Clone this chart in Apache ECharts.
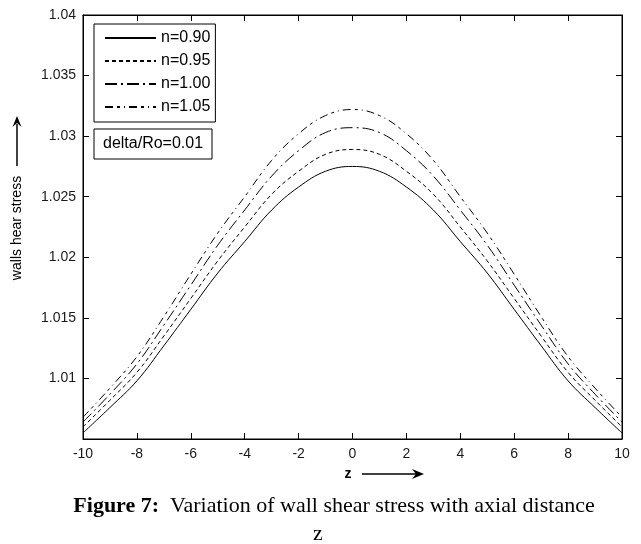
<!DOCTYPE html>
<html><head><meta charset="utf-8">
<script src="https://cdn.jsdelivr.net/npm/echarts@6/dist/echarts.min.js"></script>
<style>html,body{margin:0;padding:0;background:#fff}#c{width:641px;height:544px}</style>
</head><body><div id="c"></div>
<script>
const zValues = [-10,-9,-8,-7,-6,-5,-4,-3,-2,-1,0,1,2,3,4,5,6,7,8,9,10];
const n090 = [1.0055,1.0076,1.0098,1.0127,1.0157,1.0187,1.0213,1.0239,1.0258,1.0271,1.0275,1.0271,1.0258,1.0239,1.0213,1.0187,1.0157,1.0127,1.0098,1.0076,1.0055];
const n095 = [1.0060,1.0082,1.0105,1.0135,1.0166,1.0197,1.0225,1.0252,1.0271,1.0285,1.0289,1.0285,1.0271,1.0252,1.0225,1.0197,1.0166,1.0135,1.0105,1.0082,1.0060];
const n100 = [1.0064,1.0087,1.0112,1.0144,1.0177,1.0210,1.0239,1.0267,1.0288,1.0303,1.0307,1.0303,1.0288,1.0267,1.0239,1.0210,1.0177,1.0144,1.0112,1.0087,1.0064];
const n105 = [1.0068,1.0092,1.0118,1.0151,1.0186,1.0220,1.0250,1.0280,1.0302,1.0317,1.0322,1.0317,1.0302,1.0280,1.0250,1.0220,1.0186,1.0151,1.0118,1.0092,1.0068];
const seriesNames = ['n=0.90','n=0.95','n=1.00','n=1.05'];
const xTicks = {min:-10, max:10, interval:2};
const yTicks = {min:1.005, max:1.04, interval:0.005};
const yName = 'walls hear stress';
const xName = 'z';
const boxNote = 'delta/Ro=0.01';
const captionBold = 'Figure 7:';
const captionText = 'Variation of wall shear stress with axial distance';
const captionLine2 = 'z';

const dashes = ['solid', [4,3], [12,4,2,4], [8,4,3,4,1,4]];
const allData = [n090, n095, n100, n105];
const FONT = 'Liberation Sans';

const chart = echarts.init(document.getElementById('c'), null, {renderer:'canvas'});
const tickLbl = {fontFamily: FONT, fontSize: 14, color: '#1a1a1a'};
const option = {
  animation: false,
  backgroundColor: '#fff',
  grid: {left: 83, right: 19, top: 15, bottom: 105, show: true, borderColor: '#000', borderWidth: 1, backgroundColor: 'transparent'},
  legend: {
    orient: 'vertical', left: 94, top: 24, data: seriesNames,
    borderColor: '#000', borderWidth: 1, borderRadius: 0, backgroundColor: '#fff',
    padding: [6, 5, 7, 10], itemWidth: 51, itemHeight: 14, itemGap: 7, itemTextGap: 5,
    itemStyle: {opacity: 0},
    textStyle: {fontFamily: FONT, fontSize: 16, color: '#000'}
  },
  xAxis: [
    {type: 'value', min: xTicks.min, max: xTicks.max, interval: xTicks.interval, position: 'bottom',
     axisLine: {show: true, onZero: false, lineStyle: {color: '#000', width: 1}},
     axisTick: {show: true, inside: true, length: 6, lineStyle: {color: '#000'}},
     axisLabel: Object.assign({margin: 8}, tickLbl), splitLine: {show: false}},
    {type: 'value', min: xTicks.min, max: xTicks.max, interval: xTicks.interval, position: 'top',
     axisLine: {show: true, onZero: false, lineStyle: {color: '#000', width: 1}},
     axisTick: {show: true, inside: true, length: 6, lineStyle: {color: '#000'}},
     axisLabel: {show: false}, splitLine: {show: false}}
  ],
  yAxis: [
    {type: 'value', min: yTicks.min, max: yTicks.max, interval: yTicks.interval, position: 'left',
     axisLine: {show: true, onZero: false, lineStyle: {color: '#000', width: 1}},
     axisTick: {show: true, inside: true, length: 6, lineStyle: {color: '#000'}},
     axisLabel: Object.assign({margin: 7, formatter: v => v < yTicks.min + 1e-6 ? '' : String(+v.toFixed(3))}, tickLbl),
     splitLine: {show: false}},
    {type: 'value', min: yTicks.min, max: yTicks.max, interval: yTicks.interval, position: 'right',
     axisLine: {show: true, onZero: false, lineStyle: {color: '#000', width: 1}},
     axisTick: {show: true, inside: true, length: 6, lineStyle: {color: '#000'}},
     axisLabel: {show: false}, splitLine: {show: false}}
  ],
  series: seriesNames.map((name, i) => ({
    name, type: 'line', xAxisIndex: 0, yAxisIndex: 0,
    data: zValues.map((z, k) => [z, allData[i][k]]),
    symbol: 'none', smooth: 0.4,
    lineStyle: {color: '#000', width: 1, type: dashes[i]},
    itemStyle: {color: '#000'}
  })),
  graphic: [
    {type: 'rect', z: 100, shape: {x: 94, y: 129, width: 118, height: 30}, style: {fill: '#fff', stroke: '#000', lineWidth: 1}},
    {type: 'text', z: 101, x: 103, y: 144, style: {text: boxNote, fontFamily: FONT, fontSize: 16, fill: '#000', verticalAlign: 'middle'}},
    {type: 'text', z: 101, x: 17, y: 228, rotation: Math.PI / 2, style: {text: yName, fontFamily: FONT, fontSize: 14, fill: '#000', align: 'center', verticalAlign: 'middle'}},
    {type: 'line', z: 101, shape: {x1: 17, y1: 166, x2: 17, y2: 124}, style: {stroke: '#000', lineWidth: 1.5}},
    {type: 'polygon', z: 101, shape: {points: [[17, 116], [12.5, 127], [17, 123], [21.5, 127]]}, style: {fill: '#000'}},
    {type: 'text', z: 101, x: 348, y: 474, style: {text: xName, fontFamily: FONT, fontSize: 14, fontWeight: 'bold', fill: '#000', align: 'center', verticalAlign: 'middle'}},
    {type: 'line', z: 101, shape: {x1: 362, y1: 474, x2: 416, y2: 474}, style: {stroke: '#000', lineWidth: 1.5}},
    {type: 'polygon', z: 101, shape: {points: [[424, 474], [412, 469], [416, 474], [412, 479]]}, style: {fill: '#000'}},
    {type: 'text', z: 101, x: 334, y: 506, style: {
      text: '{b|' + captionBold + '}  ' + captionText, align: 'center', verticalAlign: 'middle',
      fontFamily: 'Liberation Serif', fontSize: 22, fill: '#000',
      rich: {b: {fontFamily: 'Liberation Serif', fontSize: 22, fontWeight: 'bold', fill: '#000'}}}},
    {type: 'text', z: 101, x: 318, y: 534, style: {text: captionLine2, fontFamily: 'Liberation Serif', fontSize: 22, fill: '#000', align: 'center', verticalAlign: 'middle'}}
  ]
};
chart.setOption(option);
</script>
</body></html>
